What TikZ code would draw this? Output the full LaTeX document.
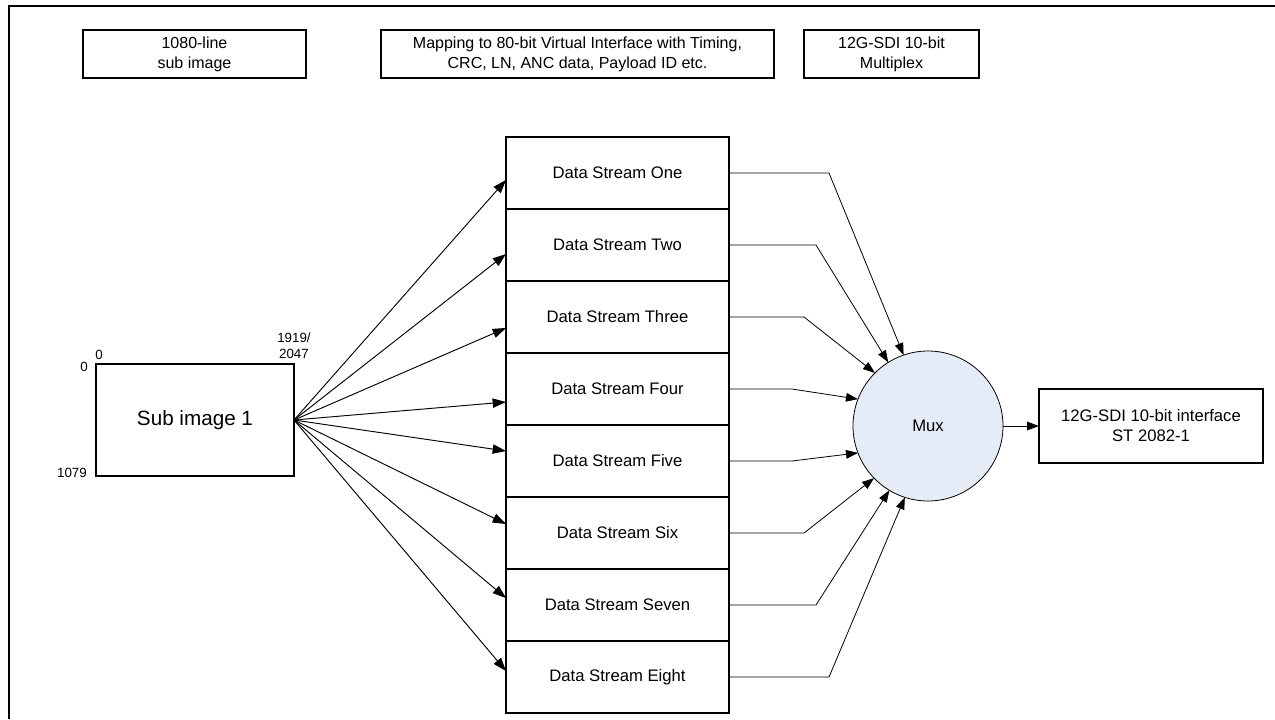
\documentclass[tikz,border=0pt]{standalone}
\usepackage{fontspec}
\setmainfont{Liberation Sans}
\usetikzlibrary{positioning,calc,arrows.meta}
\definecolor{muxfill}{RGB}{230,236,247}

\begin{document}
\begin{tikzpicture}[x=0.75pt,y=-0.75pt,
      every node/.style={inner sep=0pt,outer sep=0pt},
      box/.style={draw,line width=0.9pt,align=center},
      note/.style={box,minimum height=36pt,font=\fontsize{12}{15}\selectfont},
      stream/.style={box,minimum width=167.25pt,minimum height=54pt,font=\fontsize{12.5}{15}\selectfont},
      corner/.style={align=center,font=\fontsize{10}{12}\selectfont},
      fan/.style={-{Triangle[length=10pt,width=7pt]},line width=0.7pt},
      feed/.style={-{Triangle[length=9pt,width=6.5pt]},line width=0.6pt}]
    \useasboundingbox (0,0) rectangle (1275,719);
    \draw[line width=1pt] (9,719) -- (9,6) -- (1275,6);
    \node[note,minimum width=167.25pt] (lines) at (194.5,54) {1080-line\\sub image};
    \node[note,minimum width=294.75pt] (mapping) at (577.5,54) {Mapping to 80-bit Virtual Interface with Timing,\\CRC, LN, ANC data, Payload ID etc.};
    \node[note,minimum width=131.25pt] (multiplex) at (891.5,54) {12G-SDI 10-bit\\Multiplex};
    \node[box,minimum width=148.5pt,minimum height=84pt,font=\fontsize{15.5}{18}\selectfont] (sub) at (195,420) {Sub image 1};
    \node[corner] (coltop) at (99,355) {0};
    \node[corner] (rowtop) at (84,367) {0};
    \node[corner] (rowend) at (72,473) {1079};
    \node[corner] (colend) at (294,346) {1919/\\2047};
    \node[stream] (ds1) at (617.5,173) {Data Stream One};
    \node[stream,below=0pt of ds1] (ds2) {Data Stream Two};
    \node[stream,below=0pt of ds2] (ds3) {Data Stream Three};
    \node[stream,below=0pt of ds3] (ds4) {Data Stream Four};
    \node[stream,below=0pt of ds4] (ds5) {Data Stream Five};
    \node[stream,below=0pt of ds5] (ds6) {Data Stream Six};
    \node[stream,below=0pt of ds6] (ds7) {Data Stream Seven};
    \node[stream,below=0pt of ds7] (ds8) {Data Stream Eight};
    \node[circle,draw,line width=0.6pt,fill=muxfill,minimum size=112.5pt,font=\fontsize{12.5}{15}\selectfont] (mux) at (928,426) {Mux};
    \node[box,minimum width=168pt,minimum height=55.5pt,font=\fontsize{12.5}{15}\selectfont] (out) at (1151,426) {12G-SDI 10-bit interface\\ST 2082-1};
    \draw[fan] (sub.east) -- ($(ds1.west)+(0,7)$);
    \draw[fan] (sub.east) -- ($(ds2.west)+(0,9)$);
    \draw[fan] (sub.east) -- ($(ds3.west)+(0,11)$);
    \draw[fan] (sub.east) -- ($(ds4.west)+(0,13)$);
    \draw[fan] (sub.east) -- ($(ds5.west)+(0,-10)$);
    \draw[fan] (sub.east) -- ($(ds6.west)+(0,-9)$);
    \draw[fan] (sub.east) -- ($(ds7.west)+(0,-7)$);
    \draw[fan] (sub.east) -- ($(ds8.west)+(0,-6)$);
    \draw[feed] (ds1.east) -- ++(100,0) -- (mux.109);
    \draw[feed] (ds2.east) -- ++(87,0) -- (mux.122);
    \draw[feed] (ds3.east) -- ++(75,0) -- (mux.135);
    \draw[feed] (ds4.east) -- ++(63,0) -- (mux.159);
    \draw[feed] (ds5.east) -- ++(63,0) -- (mux.201);
    \draw[feed] (ds6.east) -- ++(75,0) -- (mux.224);
    \draw[feed] (ds7.east) -- ++(87,0) -- (mux.239);
    \draw[feed] (ds8.east) -- ++(100,0) -- (mux.252);
    \draw[feed] (mux) -- (out);
  \end{tikzpicture}
\end{document}
